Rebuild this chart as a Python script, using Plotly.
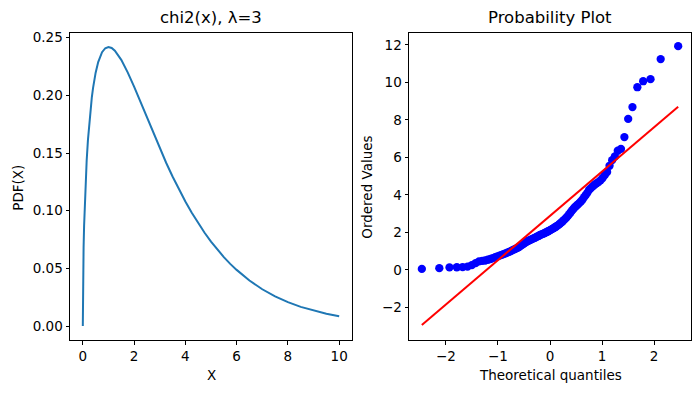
import plotly.graph_objects as go

# ---- left panel: chi2 pdf ----
pdf_x = [0, 0.005, 0.01, 0.02, 0.03, 0.05, 0.07, 0.1, 0.15, 0.2, 0.25, 0.3, 0.35, 0.4, 0.45,
         0.5, 0.6, 0.65, 0.75, 0.875, 1.0, 1.125, 1.25, 1.5, 1.75,
         2.0, 2.25, 2.5, 2.75, 3.0, 3.25, 3.5, 3.75, 4.0, 4.25, 4.5, 4.75, 5.0, 5.25, 5.5, 5.75,
         6.0, 6.5, 7.0, 7.5, 8.0, 8.5, 9.0, 9.5, 10.0]
pdf_y = [0.0, 0.0281, 0.0397, 0.0559, 0.0681, 0.0870, 0.1019, 0.1200, 0.1433, 0.1614, 0.1760,
         0.1881, 0.1981, 0.2066, 0.2137,
         0.2197, 0.2289, 0.2324, 0.2375, 0.2409, 0.2420, 0.2411, 0.2388, 0.2308, 0.2200,
         0.2076, 0.1943, 0.1807, 0.1673, 0.1542, 0.1416, 0.1297, 0.1185, 0.1080, 0.0982,
         0.0892, 0.0809, 0.0732, 0.0662, 0.0598, 0.0539,
         0.0487, 0.0395, 0.0319, 0.0257, 0.0207, 0.0166, 0.0133, 0.0106, 0.0085]

# ---- right panel: probability plot ----
theoretical_q = [
    -2.462, -2.126, -1.931, -1.790, -1.678, -1.584, -1.502, -1.429, -1.363, -1.302,
    -1.246, -1.194, -1.144, -1.097, -1.052, -1.010, -0.969, -0.930, -0.892, -0.856,
    -0.820, -0.786, -0.752, -0.719, -0.687, -0.656, -0.625, -0.595, -0.566, -0.536,
    -0.508, -0.480, -0.452, -0.424, -0.397, -0.370, -0.344, -0.318, -0.291, -0.265,
    -0.240, -0.214, -0.189, -0.163, -0.138, -0.113, -0.088, -0.062, -0.037, -0.012,
    0.012, 0.037, 0.062, 0.088, 0.113, 0.138, 0.163, 0.189, 0.214, 0.240,
    0.265, 0.291, 0.318, 0.344, 0.370, 0.397, 0.424, 0.452, 0.480, 0.508,
    0.536, 0.566, 0.595, 0.625, 0.656, 0.687, 0.719, 0.752, 0.786, 0.820,
    0.856, 0.892, 0.930, 0.969, 1.010, 1.052, 1.097, 1.144, 1.194, 1.246,
    1.302, 1.363, 1.429, 1.502, 1.584, 1.678, 1.790, 1.931, 2.126, 2.462]
ordered_values = [
    0.05, 0.09, 0.13, 0.14, 0.15, 0.17, 0.25, 0.36, 0.45, 0.48,
    0.50, 0.54, 0.58, 0.63, 0.68, 0.72, 0.76, 0.80, 0.84, 0.88,
    0.92, 0.96, 1.00, 1.05, 1.09, 1.13, 1.17, 1.22, 1.28, 1.34,
    1.39, 1.44, 1.50, 1.54, 1.57, 1.61, 1.64, 1.68, 1.71, 1.75,
    1.79, 1.82, 1.86, 1.89, 1.92, 1.95, 1.99, 2.02, 2.06, 2.09,
    2.13, 2.17, 2.21, 2.26, 2.30, 2.35, 2.40, 2.46, 2.52, 2.58,
    2.65, 2.72, 2.80, 2.88, 2.97, 3.07, 3.17, 3.26, 3.35, 3.42,
    3.49, 3.57, 3.65, 3.75, 3.88, 3.99, 4.12, 4.27, 4.36, 4.45,
    4.54, 4.61, 4.68, 4.77, 4.90, 5.05, 5.22, 5.55, 5.85, 6.05,
    6.35, 6.45, 7.08, 8.05, 8.68, 9.74, 10.06, 10.17, 11.24, 11.93]
fit_slope = 2.362
fit_intercept = 2.88

left_xticks = [0, 2, 4, 6, 8, 10]
left_yticks = [0.0, 0.05, 0.10, 0.15, 0.20, 0.25]
right_xticks = [-2, -1, 0, 1, 2]
right_yticks = [-2, 0, 2, 4, 6, 8, 10, 12]

fit_x = [theoretical_q[0], theoretical_q[-1]]
fit_y = [fit_slope * v + fit_intercept for v in fit_x]

FONT = "DejaVu Sans"
fig = go.Figure()
fig.add_trace(go.Scatter(x=pdf_x, y=pdf_y, mode="lines",
                         line=dict(color="#1f77b4", width=2), xaxis="x", yaxis="y",
                         showlegend=False))
fig.add_trace(go.Scatter(x=theoretical_q, y=ordered_values, mode="markers",
                         marker=dict(color="#0000ff", size=8.3, line=dict(width=0)),
                         xaxis="x2", yaxis="y2", showlegend=False))
fig.add_trace(go.Scatter(x=fit_x, y=fit_y, mode="lines",
                         line=dict(color="#ff0000", width=2), xaxis="x2", yaxis="y2",
                         showlegend=False))

# The page body has an 8px default margin; the figure is sized so it fits the window.
OFF = 8
W, H = 700 - 2 * OFF, 393 - 2 * OFF
# target plot area in window pixels: x 70..691, y 33..340.5
ml = 70 - OFF
mr = W - (691 - OFF)
mt = 33 - OFF
mb = H - (340.5 - OFF)
pw = W - ml - mr
ph = H - mt - mb

axis_common = dict(showline=True, mirror=True, linecolor="black", linewidth=1,
                   ticks="outside", ticklen=3.5, tickwidth=1, tickcolor="black",
                   showgrid=False, zeroline=False, automargin=False,
                   tickfont=dict(family=FONT, size=13.5, color="black"))

fig.update_layout(
    template="none",
    width=W, height=H, margin=dict(l=ml, r=mr, t=mt, b=mb, autoexpand=False, pad=0),
    paper_bgcolor="white", plot_bgcolor="white",
    font=dict(family=FONT, color="black"),
    xaxis=dict(domain=[0, (352 - 70) / pw], range=[-0.5, 10.5],
               tickvals=left_xticks, anchor="y", **axis_common),
    yaxis=dict(domain=[0, 1], range=[-0.0121, 0.2541], tickvals=left_yticks,
               tickformat=".2f", anchor="x", **axis_common),
    xaxis2=dict(domain=[(409 - 70) / pw, 1], range=[-2.7085, 2.7085],
                tickvals=right_xticks, anchor="y2", **axis_common),
    yaxis2=dict(domain=[0, 1], range=[-3.74, 12.63], tickvals=right_yticks,
                anchor="x2", **axis_common),
)

ann = []

def px_to_paper(xw, yw):
    # window pixel -> plot-area paper coordinates
    xf, yf = xw - OFF, yw - OFF
    return (xf - ml) / pw, (H - mb - yf) / ph

def add_label(text, xw, yw, size, angle=0):
    px, py = px_to_paper(xw, yw)
    ann.append(dict(text=text, x=px, y=py, xref="paper", yref="paper",
                    showarrow=False, xanchor="center", yanchor="middle",
                    textangle=angle, font=dict(family=FONT, size=size, color="black")))

add_label("chi2(x), λ=3", 211, 17, 16.5)
add_label("Probability Plot", 550, 17, 16.5)
add_label("X", 211, 376, 13.5)
add_label("Theoretical quantiles", 550, 376, 13.5)
add_label("PDF(X)", 18, 188, 13.5, -90)
add_label("Ordered Values", 367, 188, 13.5, -90)
fig.update_layout(annotations=ann)

fig.write_html("out.html")
